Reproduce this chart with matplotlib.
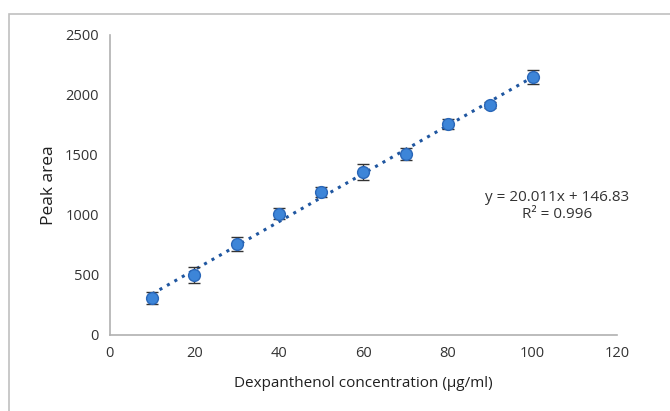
import numpy as np
import matplotlib
matplotlib.use("Agg")
from matplotlib import pyplot as plt
from matplotlib.patches import Rectangle

# データ
conc = [10, 20, 30, 40, 50, 60, 70, 80, 90, 100]
area = [308, 500, 758, 1011, 1189, 1356, 1508, 1758, 1914, 2147]
err = [48, 64, 57, 46, 42, 68, 49, 42, 25, 60]
x_ticks = [0, 20, 40, 60, 80, 100, 120]
y_ticks = [0, 500, 1000, 1500, 2000, 2500]
eq_text = "y = 20.011x + 146.83\nR² = 0.996"

plt.rcParams['font.family'] = ['Open Sans', 'DejaVu Sans']

fig = plt.figure(figsize=(6.7, 4.11), dpi=100)
ax = fig.add_axes([0.164, 0.185, 0.757, 0.73])

# 外枠
fig.patches.append(Rectangle((9 / 670, -0.1), 1.2, 1.1 - 14 / 411,
                             transform=fig.transFigure, fill=False,
                             edgecolor='#c0c0c0', linewidth=1.2))

# 近似直線
coef = np.polyfit(conc, area, 1)
xs = np.array([conc[0], conc[-1]])
ax.plot(xs, np.polyval(coef, xs), linestyle=(0, (1, 1.8)), color='#1f56a0',
        linewidth=2.2, zorder=2)

ax.errorbar(conc, area, yerr=err, fmt='o', color='#333333', ecolor='#333333',
            elinewidth=1, capsize=4, capthick=1,
            markerfacecolor='#3d85d8', markeredgecolor='#2a67b8',
            markersize=8.5, zorder=3)

ax.text(105.8, 1075, eq_text, ha='center', va='center', fontsize=11,
        color='#333333', linespacing=1.2)

ax.set_xlim(0, 120)
ax.set_ylim(0, 2500)
ax.set_xticks(x_ticks)
ax.set_yticks(y_ticks)
ax.tick_params(length=0, labelsize=10.5, colors='#333333', pad=8)
for s in ['top', 'right']:
    ax.spines[s].set_visible(False)
for s in ['left', 'bottom']:
    ax.spines[s].set_color('#b0b0b0')
    ax.spines[s].set_linewidth(1.2)

ax.set_xlabel('Dexpanthenol concentration (µg/ml)', fontsize=11, color='#202020', labelpad=11)
ax.set_ylabel('Peak area', fontsize=12.5, color='#202020', labelpad=6)

fig.savefig('out.png', dpi=100)
